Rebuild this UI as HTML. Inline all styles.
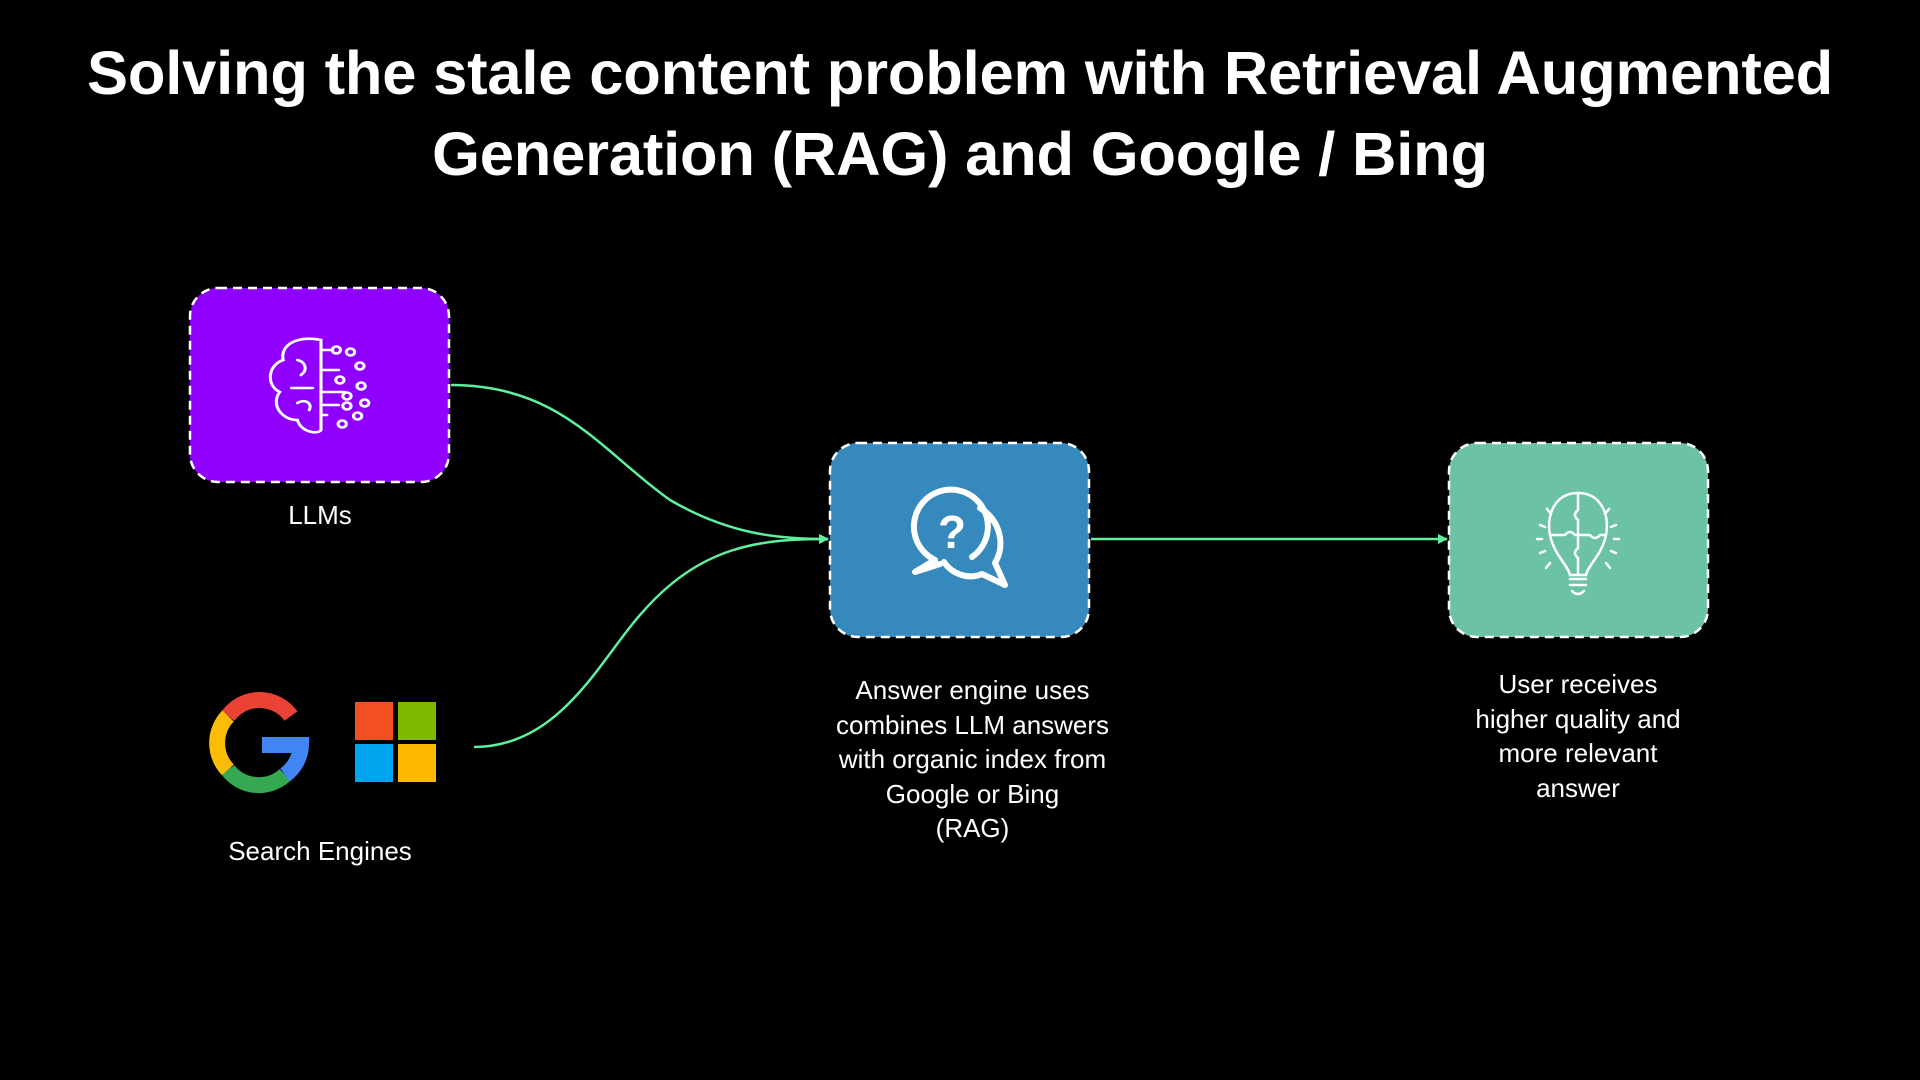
<!DOCTYPE html>
<html><head><meta charset="utf-8"><style>
body{margin:0;width:1920px;height:1080px;background:#000;overflow:hidden;font-family:"Liberation Sans",sans-serif;color:#fff;position:relative}
.t{position:absolute;left:0;width:1920px;text-align:center;font-weight:bold;font-size:61.5px;letter-spacing:-0.2px}
.l{position:absolute;text-align:center;font-size:26px;line-height:34.5px}
</style></head><body>
<div class="t" style="top:38px">Solving the stale content problem with Retrieval Augmented</div>
<div class="t" style="top:119px">Generation (RAG) and Google / Bing</div>
<svg width="1920" height="1080" style="position:absolute;left:0;top:0">
<defs><marker id="a" markerWidth="10" markerHeight="10" refX="9" refY="5" orient="auto" markerUnits="userSpaceOnUse"><path d="M0,0 L18,5 L0,10Z" fill="#5ef0a0" transform="scale(0.55,1)"/></marker></defs>
<rect x="190" y="288" width="259" height="194" rx="28" fill="#8f00ff" stroke="#fff" stroke-width="2.5" stroke-dasharray="9,6"/>
<rect x="830" y="443" width="259" height="194" rx="28" fill="#3689bc" stroke="#fff" stroke-width="2.5" stroke-dasharray="9,6"/>
<rect x="1449" y="443" width="259" height="194" rx="28" fill="#6cc2a5" stroke="#fff" stroke-width="2.5" stroke-dasharray="9,6"/>
<g fill="none" stroke="#5ef0a0" stroke-width="2.5">
<path d="M451,385 C560,385 600,450 670,500 C730,535 780,539 828,539" marker-end="url(#a)"/>
<path d="M474,747 C560,747 600,660 640,615 C700,545 760,539 828,539" marker-end="url(#a)"/>
<path d="M1091,539 L1447,539" marker-end="url(#a)"/>
</g>
<!-- brain -->
<g transform="translate(321,0) scale(1.18,1) translate(-325,0)">
<g fill="none" stroke="#fff" stroke-width="2.6" stroke-linecap="round">
<path d="M325,340 C305,335 290,345 293,360 C280,365 278,385 290,392 C282,405 292,420 305,420 C308,432 322,435 325,430 Z"/>
<path d="M325,340 L325,430 M325,350 H335 M325,370 H340 M325,392 H345 M325,405 H340 M325,415 H330"/>
<circle cx="338" cy="350" r="3.5"/><circle cx="350" cy="352" r="3.5"/><circle cx="358" cy="366" r="3.5"/><circle cx="341" cy="380" r="3.5"/><circle cx="359" cy="386" r="3.5"/><circle cx="347" cy="396" r="3.5"/><circle cx="362" cy="403" r="3.5"/><circle cx="347" cy="406" r="3.5"/><circle cx="356" cy="416" r="3.5"/><circle cx="343" cy="424" r="3.5"/>
<path d="M305,360 C312,362 314,370 308,375 M300,388 H318 M305,403 C312,398 318,404 315,410"/>
</g></g>
<!-- question bubbles -->
<g fill="none" stroke="#fff" stroke-width="6" stroke-linejoin="round" stroke-linecap="round">
<path d="M935,560 A37,37 0 1 1 972,557"/>
<path d="M935,560 L915,572 L940,564"/>
<path d="M980,508 C1000,520 1006,545 995,563 L1005,585 L982,574 C968,580 952,574 944,562"/>
</g>
<text x="952" y="548" text-anchor="middle" font-family="Liberation Sans" font-weight="bold" font-size="46" fill="#fff">?</text>
<!-- bulb -->
<g fill="none" stroke="#fff" stroke-width="2.5" stroke-linecap="round">
<path d="M1578,493 C1555,493 1546,515 1550,535 C1554,555 1568,565 1570,575 L1586,575 C1588,565 1602,555 1606,535 C1610,515 1601,493 1578,493Z"/>
<path d="M1578,493 V510 Q1572,515 1578,520 V548 Q1572,553 1578,558 V575 M1551,535 H1565 Q1570,529 1575,535 H1590 Q1595,541 1600,535 H1605"/>
<path d="M1570,579 H1586 M1570,585 H1586 M1572,591 Q1578,597 1584,591"/>
<path d="M1537,539 H1542 M1614,539 H1619 M1540,525 L1545,527 M1611,527 L1616,525 M1540,553 L1545,551 M1611,551 L1616,553 M1547,509 L1551,514 M1609,509 L1605,514 M1546,568 L1550,563 M1610,568 L1606,563"/>
</g>
<!-- google -->
<g fill="none" stroke-width="16">
<path d="M291,716 A39,39 0 0 0 228,716" stroke="#ea4335"/>
<path d="M228,716 A39,39 0 0 0 228,770" stroke="#fbbc05"/>
<path d="M228,770 A39,39 0 0 0 285,775" stroke="#34a853"/>
<path d="M285,775 A39,39 0 0 0 301,745 L262,745" stroke="#4285f4"/>
</g>
<rect x="355" y="702" width="38" height="38" fill="#f25022"/><rect x="398" y="702" width="38" height="38" fill="#7fba00"/>
<rect x="355" y="744" width="38" height="38" fill="#00a4ef"/><rect x="398" y="744" width="38" height="38" fill="#ffb900"/>
</svg>
<div class="l" style="left:220px;width:200px;top:498px">LLMs</div>
<div class="l" style="left:170px;width:300px;top:834px">Search Engines</div>
<div class="l" style="left:800px;width:345px;top:673px">Answer engine uses<br>combines LLM answers<br>with organic index from<br>Google or Bing<br>(RAG)</div>
<div class="l" style="left:1420px;width:316px;top:667px">User receives<br>higher quality and<br>more relevant<br>answer</div>
</body></html>
